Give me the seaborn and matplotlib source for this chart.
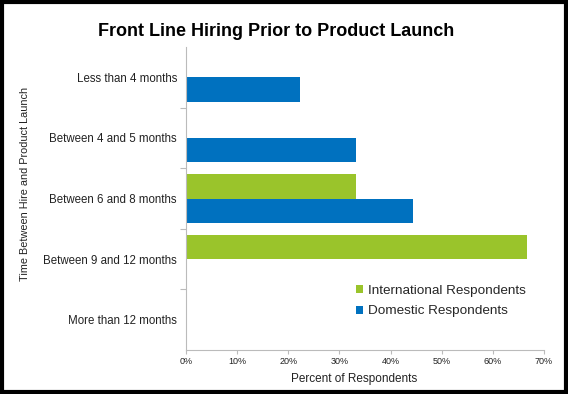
import matplotlib
matplotlib.use("Agg")
import matplotlib.pyplot as plt
import seaborn as sns
import pandas as pd
from matplotlib.patches import Rectangle
from matplotlib.ticker import FixedLocator, PercentFormatter

categories = ["Less than 4 months", "Between 4 and 5 months", "Between 6 and 8 months",
              "Between 9 and 12 months", "More than 12 months"]
international = [0.0, 0.0, 33.3, 66.7, 0.0]
domestic = [22.2, 33.3, 44.4, 0.0, 0.0]
series_names = ["International Respondents", "Domestic Respondents"]
xticks = [0, 10, 20, 30, 40, 50, 60, 70]

df = pd.DataFrame({
    "Category": categories * 2,
    "Series": [series_names[0]] * len(categories) + [series_names[1]] * len(categories),
    "Value": international + domestic,
})

sns.set_theme(style="white")
plt.rcParams["font.family"] = ["Liberation Sans", "DejaVu Sans"]

fig = plt.figure(figsize=(5.68, 3.94), dpi=100)
ax = fig.add_axes([186 / 568, 1 - 350 / 394, (544 - 186) / 568, (350 - 47) / 394])

palette = {series_names[0]: "#9AC42B", series_names[1]: "#0071BF"}
sns.barplot(data=df, y="Category", x="Value", hue="Series", order=categories,
            hue_order=series_names, palette=palette, orient="h", width=0.8,
            linewidth=0, saturation=1, ax=ax)

ax.set_xlim(0, 70)
ax.set_ylim(len(categories) - 0.5, -0.5)
ax.xaxis.set_major_locator(FixedLocator(xticks))
ax.xaxis.set_major_formatter(PercentFormatter(decimals=0))
ax.tick_params(axis="x", labelsize=6.5, colors="#222222", length=3, width=0.8,
               direction="out", bottom=True, color="#BBBBBB", pad=2)
ax.tick_params(axis="y", which="major", labelsize=8.3, length=0, pad=6.5, colors="#222222")
ax.set_yticks([i + 0.5 for i in range(len(categories) - 1)], minor=True)
ax.tick_params(axis="y", which="minor", length=4, width=0.8, color="#BBBBBB", left=True)
ax.set_xlabel("")
ax.set_ylabel("")

for side in ["top", "right"]:
    ax.spines[side].set_visible(False)
for side in ["left", "bottom"]:
    ax.spines[side].set_color("#BBBBBB")
    ax.spines[side].set_linewidth(0.8)

leg = ax.get_legend()
if leg is not None:
    leg.remove()
handles, labels = ax.get_legend_handles_labels()
ax.legend(handles, labels, loc="upper left", bbox_to_anchor=(356 / 568, 1 - 285 / 394),
          bbox_transform=fig.transFigure, frameon=False, fontsize=9.7,
          handlelength=0.55, handleheight=0.55, handletextpad=0.35, labelspacing=0.62,
          borderaxespad=0, borderpad=0)

fig.text(276 / 568, 1 - 31 / 394, "Front Line Hiring Prior to Product Launch",
         ha="center", va="center", fontsize=13, fontweight="bold", color="black")
fig.text(354 / 568, 1 - 379 / 394, "Percent of Respondents", ha="center", va="center",
         fontsize=8.5, color="#222222")
fig.text(25 / 568, 1 - 184 / 394, "Time Between Hire and Product Launch", ha="center",
         va="center", rotation=90, fontsize=7.8, color="#222222")

fig.patches.append(Rectangle((0.003, 0.004), 0.994, 0.992, transform=fig.transFigure,
                             fill=False, edgecolor="black", linewidth=3, figure=fig))

fig.savefig("out.png", dpi=100)
